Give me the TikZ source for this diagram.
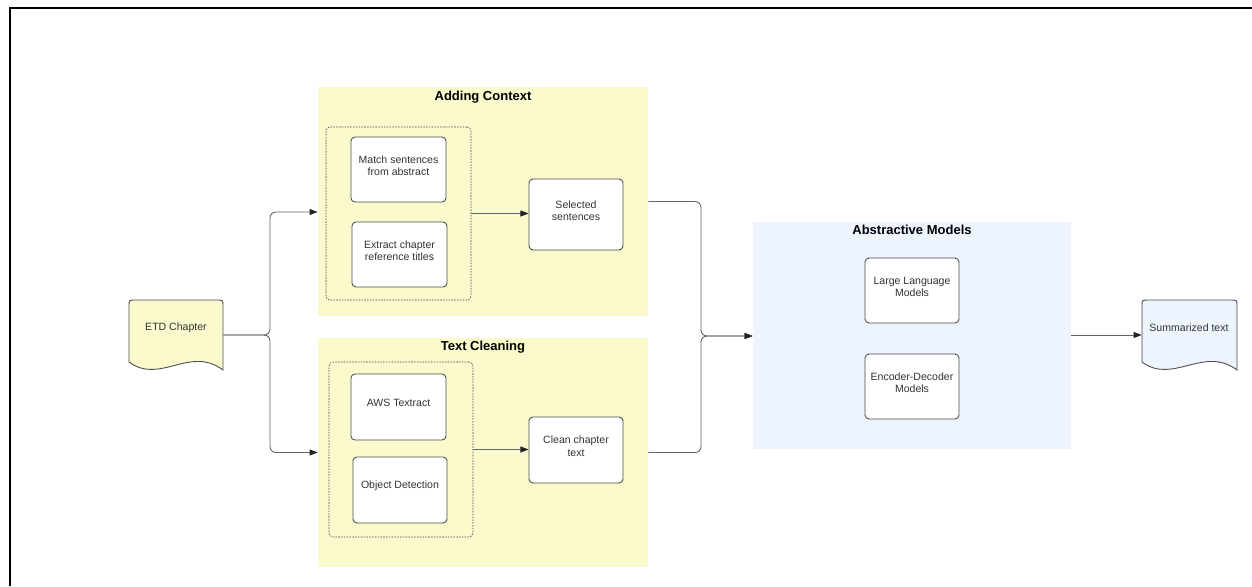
\documentclass[tikz,border=0pt]{standalone}
\usepackage{fontspec}
\setmainfont{Liberation Sans}
\usetikzlibrary{fit,arrows.meta}

\definecolor{paleyellow}{RGB}{251,250,204}
\definecolor{paleblue}{RGB}{237,244,254}
\definecolor{edgegray}{RGB}{75,75,75}
\definecolor{wiregray}{RGB}{100,100,100}
\definecolor{inkgray}{RGB}{50,50,50}
\definecolor{tipgray}{RGB}{35,35,35}

\begin{document}
\begin{tikzpicture}[x=0.02cm,y=-0.02cm,
  every node/.style={font=\fontsize{6}{7.2}\selectfont, text=inkgray},
  stepbox/.style={draw=edgegray, fill=white, rounded corners=0.08cm,
    line width=0.5pt, inner sep=0pt, align=center},
  panel/.style={inner sep=0pt, draw=none},
  groupbox/.style={draw=edgegray, line width=0.35pt,
    dash pattern=on 0.9pt off 0.7pt, rounded corners=0.08cm, inner sep=0pt},
  paneltitle/.style={font=\fontsize{7.4}{9}\selectfont\bfseries, text=black},
  docshape/.style={draw=edgegray, line width=0.5pt},
  wire/.style={draw=wiregray, line width=0.5pt, rounded corners=0.12cm},
  flow/.style={wire, -{Triangle[length=4.6pt,width=3.4pt,color=tipgray]}},
]
\useasboundingbox (0,0) rectangle (1252,586);

% outer frame (only the top and left edges fall inside the page)
\draw[black, line width=1pt] (10,586) -- (10,8) -- (1252,8);

% ---------- input document ----------
\fill[paleyellow] (129,362) -- (129,306) .. controls (129,300) .. (135,300)
  -- (217,300) .. controls (223,300) .. (223,306) -- (223,370)
  .. controls (190,345) and (160,385) .. (129,362) -- cycle;
\draw[docshape] (129,362) -- (129,306) .. controls (129,300) .. (135,300)
  -- (217,300) .. controls (223,300) .. (223,306) -- (223,370)
  .. controls (190,345) and (160,385) .. (129,362) -- cycle;
\node[panel, fit={(129,300) (223,370)}] (etd) {};
\node at (176,328) {ETD Chapter};

% ---------- output document ----------
\fill[paleblue] (1142,362) -- (1142,306) .. controls (1142,300) .. (1148,300)
  -- (1231,300) .. controls (1237,300) .. (1237,306) -- (1237,370)
  .. controls (1204,345) and (1173,385) .. (1142,362) -- cycle;
\draw[docshape] (1142,362) -- (1142,306) .. controls (1142,300) .. (1148,300)
  -- (1231,300) .. controls (1237,300) .. (1237,306) -- (1237,370)
  .. controls (1204,345) and (1173,385) .. (1142,362) -- cycle;
\node[panel, fit={(1142,300) (1237,370)}] (summ) {};
\node at (1189,328) {Summarized text};

% ---------- Adding Context ----------
\node[panel, fill=paleyellow, fit={(318,87) (648,316)}] (ac) {};
\node[paneltitle] (actitle) at (483,97) {Adding Context};
\node[groupbox, fit={(326,127) (471,300)}] (acgroup) {};
\node[stepbox, fit={(351,137) (446,202)}] (match) {Match sentences\\from abstract};
\node[stepbox, fit={(352,222) (447,287)}] (extract) {Extract chapter\\reference titles};
\node[stepbox, fit={(529,179) (623,250)}] (sel) {Selected\\sentences};

% ---------- Text Cleaning ----------
\node[panel, fill=paleyellow, fit={(318,338) (648,567)}] (tc) {};
\node[paneltitle] (tctitle) at (483,347) {Text Cleaning};
\node[groupbox, fit={(329,362) (473,537)}] (tcgroup) {};
\node[stepbox, fit={(351,374) (446,440)}] (aws) {AWS Textract};
\node[stepbox, fit={(353,457) (447,523)}] (objdet) {Object Detection};
\node[stepbox, fit={(529,417) (623,483)}] (clean) {Clean chapter\\text};

% ---------- Abstractive Models ----------
\node[panel, fill=paleblue, fit={(753,222) (1071,449)}] (abs) {};
\node[paneltitle] (abstitle) at (912,230) {Abstractive Models};
\node[stepbox, fit={(865,258) (959,323)}] (llm) {Large Language\\Models};
\node[stepbox, fit={(865,354) (959,419)}] (encdec) {Encoder-Decoder\\Models};

% ---------- connectors ----------
\coordinate (fork) at (270,335);
\coordinate (merge) at (701,336);

\draw[flow] (etd.east) -- (fork) -- (fork |- 0,212) -- (ac.west |- 0,212);
\draw[flow] (etd.east) -- (fork) -- (fork |- tc.west) -- (tc.west);

\draw[flow] (acgroup.east) -- (sel.west |- acgroup.east);
\draw[flow] (tcgroup.east) -- (clean.west |- tcgroup.east);

\draw[flow] (ac.east) -- (merge |- ac.east) -- (merge) -- (abs.west |- merge);
\draw[flow] (tc.east) -- (merge |- tc.east) -- (merge) -- (abs.west |- merge);

\draw[flow] (abs.east |- summ.west) -- (summ.west);
\end{tikzpicture}
\end{document}
